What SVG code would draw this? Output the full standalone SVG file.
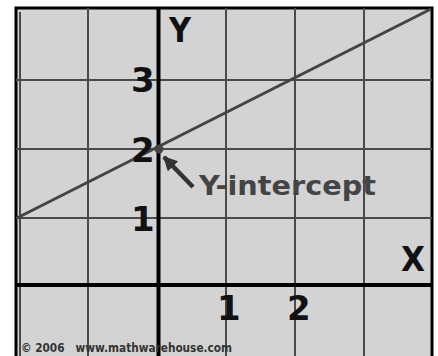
<svg xmlns="http://www.w3.org/2000/svg" width="438" height="356" viewBox="0 0 438 356">
<defs>
<style>
.grid{stroke:#4a4a4a;stroke-width:2;fill:none}
.axis{stroke:#000;stroke-width:4;fill:none}
.num{font-family:"DejaVu Sans",Verdana,sans-serif;font-weight:bold;font-size:34px;fill:#111}
.lbl{font-family:"DejaVu Sans",Verdana,sans-serif;font-weight:bold;font-size:26px;fill:#444}
.copy{font-family:"DejaVu Sans",Verdana,sans-serif;font-weight:bold;font-size:12px;fill:#333}
</style>
<marker id="ah" viewBox="0 0 10 10" refX="9" refY="5" markerWidth="3.2" markerHeight="3.2" orient="auto" markerUnits="strokeWidth">
<path d="M0,0 L10,5 L0,10 z" fill="#333"/>
</marker>
</defs>
<rect x="0" y="0" width="438" height="356" fill="#fff"/>
<rect x="16" y="8" width="416" height="360" fill="#d3d3d3" stroke="#000" stroke-width="3"/>
<g id="grid">
<line class="grid" x1="88" y1="8" x2="88" y2="356"/>
<line class="grid" x1="226" y1="8" x2="226" y2="356"/>
<line class="grid" x1="295" y1="8" x2="295" y2="356"/>
<line class="grid" x1="364" y1="8" x2="364" y2="356"/>
<line class="grid" x1="20" y1="12" x2="20" y2="356"/>
<line class="grid" x1="16" y1="80" x2="432" y2="80"/>
<line class="grid" x1="16" y1="149" x2="432" y2="149"/>
<line class="grid" x1="16" y1="218" x2="432" y2="218"/>
</g>
<g id="axes">
<line class="axis" x1="158.5" y1="8" x2="158.5" y2="356"/>
<line class="axis" x1="16" y1="285" x2="432" y2="285"/>
</g>
<g id="graph-line">
<line x1="17" y1="218" x2="431" y2="9" stroke="#444" stroke-width="3"/>
<circle cx="159" cy="149" r="4.5" fill="#444"/>
</g>
<g id="connectors">
<line x1="193" y1="187" x2="164" y2="157" stroke="#333" stroke-width="4.5" marker-end="url(#ah)"/>
</g>
<g id="labels">
<text class="num" x="169" y="42" textLength="22" lengthAdjust="spacingAndGlyphs">Y</text>
<text class="num" x="131" y="92">3</text>
<text class="num" x="131" y="162">2</text>
<text class="num" x="131" y="231">1</text>
<text class="num" x="401" y="271" textLength="24" lengthAdjust="spacingAndGlyphs">X</text>
<text class="num" x="217" y="320">1</text>
<text class="num" x="287" y="320">2</text>
<text class="lbl" x="199" y="195" textLength="177" lengthAdjust="spacingAndGlyphs">Y-intercept</text>
<text class="copy" x="21" y="352" textLength="211" lengthAdjust="spacingAndGlyphs" xml:space="preserve">© 2006   www.mathwarehouse.com</text>
</g>
</svg>
